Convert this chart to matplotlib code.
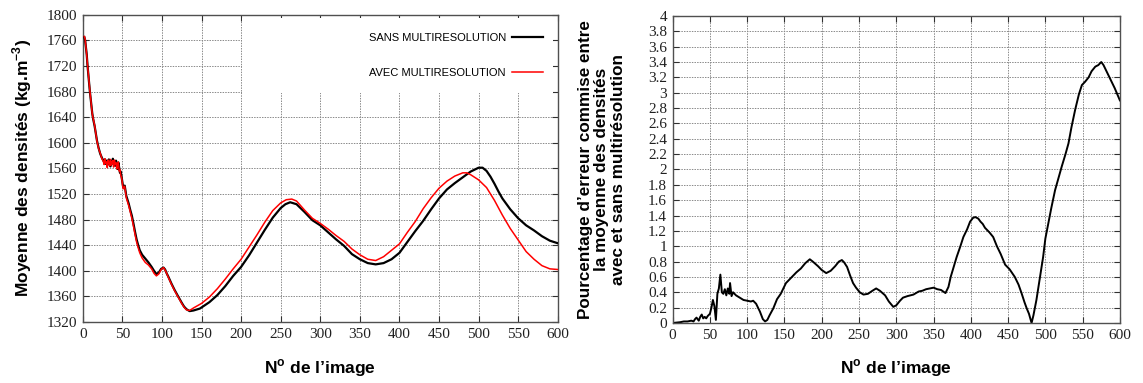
import numpy as np
import matplotlib
matplotlib.use("Agg")
import matplotlib.pyplot as plt
from matplotlib import font_manager
from matplotlib.patches import Rectangle

try:
    font_manager.findfont('Liberation Serif', fallback_to_default=False)
    TICK_FAMILY = 'Liberation Serif'
except ValueError:
    TICK_FAMILY = 'DejaVu Serif'

plt.rcParams['font.family'] = 'serif'
plt.rcParams['font.serif'] = [TICK_FAMILY, 'DejaVu Serif']
plt.rcParams['mathtext.fontset'] = 'custom'
plt.rcParams['mathtext.rm'] = 'Liberation Sans:bold'
plt.rcParams['mathtext.bf'] = 'Liberation Sans:bold'

# Mean density per image, without multiresolution (black)
sans_x = [2, 3, 5, 6, 9, 12, 13, 15, 18, 20,
          22, 24, 26, 27, 28, 29, 30, 31, 32, 33,
          34, 35, 36, 37, 38, 39, 40, 41, 42, 43,
          44, 45, 46, 47, 48, 49, 51, 53, 55, 58,
          60, 62, 64, 66, 68, 70, 72, 75, 79, 83,
          87, 90, 93, 96, 99, 102, 104, 106, 108, 112,
          116, 120, 125, 128, 131, 135, 140, 148, 160, 170,
          180, 190, 200, 210, 220, 230, 240, 250, 256, 262,
          270, 280, 290, 300, 310, 320, 330, 340, 350, 360,
          370, 380, 390, 400, 410, 420, 430, 440, 450, 460,
          470, 480, 490, 500, 505, 510, 515, 520, 525, 530,
          540, 550, 560, 570, 580, 590, 600]
sans_y = [1765, 1760, 1738, 1721, 1680, 1646, 1638, 1626, 1603, 1592,
          1583, 1577, 1572, 1570, 1574, 1567, 1572, 1565, 1570, 1574,
          1567, 1563, 1571, 1568, 1575, 1566, 1570, 1564, 1572, 1567,
          1559, 1569, 1561, 1553, 1555, 1547, 1531, 1533, 1517, 1505,
          1495, 1486, 1474, 1461, 1449, 1440, 1432, 1425, 1419, 1413,
          1406, 1400, 1395, 1397, 1403, 1405, 1402, 1396, 1391, 1380,
          1370, 1361, 1350, 1344, 1340, 1337, 1338, 1341, 1351, 1362,
          1376, 1392, 1406, 1424, 1444, 1464, 1483, 1498, 1504, 1507,
          1504, 1492, 1479, 1471, 1460, 1449, 1439, 1426, 1418, 1412,
          1410, 1412, 1418, 1428, 1445, 1462, 1478, 1496, 1513, 1527,
          1537, 1546, 1555, 1561, 1561, 1556, 1547, 1536, 1524, 1513,
          1496, 1482, 1471, 1463, 1454, 1447, 1443]

# Mean density per image, with multiresolution (red)
avec_x = [2, 3, 5, 6, 9, 12, 13, 15, 18, 20,
          22, 24, 26, 27, 28, 29, 30, 31, 32, 33,
          34, 35, 36, 37, 38, 39, 40, 41, 42, 43,
          44, 45, 46, 47, 48, 49, 51, 53, 55, 58,
          60, 62, 64, 66, 68, 70, 72, 75, 79, 83,
          87, 90, 93, 96, 99, 102, 104, 106, 108, 112,
          116, 120, 125, 128, 131, 135, 140, 150, 160, 170,
          180, 190, 200, 210, 220, 230, 240, 250, 257, 264,
          270, 280, 290, 300, 310, 320, 330, 340, 350, 360,
          370, 380, 390, 400, 410, 420, 430, 440, 450, 460,
          470, 480, 485, 490, 500, 510, 520, 530, 540, 550,
          560, 570, 580, 590, 600]
avec_y = [1766, 1762, 1737, 1722, 1681, 1645, 1639, 1627, 1602, 1591,
          1584, 1576, 1571, 1566, 1575, 1568, 1570, 1561, 1573, 1569,
          1564, 1574, 1565, 1570, 1572, 1562, 1573, 1566, 1569, 1559,
          1566, 1570, 1556, 1558, 1549, 1546, 1528, 1532, 1514, 1502,
          1492, 1482, 1470, 1457, 1445, 1436, 1428, 1420, 1413, 1409,
          1403, 1396, 1392, 1395, 1402, 1405, 1401, 1396, 1390, 1379,
          1369, 1360, 1349, 1343, 1339, 1338, 1342, 1349, 1359, 1372,
          1387, 1403, 1418, 1437, 1456, 1476, 1494, 1506, 1511, 1512,
          1509, 1495, 1482, 1474, 1465, 1455, 1446, 1434, 1425, 1418,
          1416, 1422, 1432, 1442, 1460, 1477, 1497, 1514, 1529, 1540,
          1548, 1553, 1553, 1550, 1542, 1530, 1510, 1487, 1466, 1448,
          1430, 1418, 1408, 1403, 1402]

# Error percentage between the two means
err_x = [0, 5, 10, 15, 20, 25, 28, 30, 32, 35,
         37, 39, 41, 43, 45, 47, 50, 52, 54, 56,
         58, 60, 62, 64, 66, 68, 70, 72, 74, 76,
         77, 79, 81, 85, 90, 95, 100, 105, 108, 112,
         117, 121, 124, 127, 130, 135, 140, 145, 148, 152,
         157, 162, 166, 172, 178, 184, 188, 195, 200, 206,
         212, 218, 223, 227, 230, 234, 238, 242, 246, 251,
         256, 262, 268, 273, 278, 285, 290, 296, 300, 305,
         309, 315, 323, 330, 335, 340, 345, 350, 355, 360,
         366, 370, 373, 377, 381, 386, 390, 395, 399, 403,
         406, 410, 413, 416, 419, 425, 430, 435, 440, 446,
         452, 459, 464, 468, 472, 475, 478, 481.5, 484, 488,
         492, 497, 500, 504, 508, 513, 518, 522, 527, 531,
         535, 540, 545, 549, 553, 558, 562, 567, 571, 575,
         578, 581, 584, 588, 593, 597, 600]
err_y = [0.0, 0.005, 0.01, 0.02, 0.02, 0.03, 0.02, 0.05, 0.07, 0.03,
         0.08, 0.11, 0.06, 0.08, 0.06, 0.09, 0.12, 0.2, 0.3, 0.22,
         0.04, 0.38, 0.45, 0.63, 0.4, 0.38, 0.44, 0.36, 0.45, 0.38,
         0.52, 0.35, 0.4, 0.36, 0.33, 0.3, 0.29, 0.28, 0.29, 0.25,
         0.15, 0.05, 0.02, 0.04, 0.1, 0.19, 0.31, 0.38, 0.44, 0.52,
         0.57, 0.62, 0.66, 0.71, 0.78, 0.83, 0.8, 0.74, 0.69, 0.65,
         0.68, 0.74, 0.8, 0.82, 0.79, 0.73, 0.62, 0.52, 0.46, 0.4,
         0.37, 0.38, 0.42, 0.45, 0.42, 0.36, 0.28, 0.21, 0.23, 0.29,
         0.33, 0.35, 0.37, 0.41, 0.42, 0.44, 0.45, 0.46, 0.44, 0.43,
         0.39, 0.47, 0.6, 0.73, 0.86, 1.0, 1.12, 1.22, 1.32, 1.37,
         1.38, 1.36, 1.32, 1.29, 1.24, 1.18, 1.12, 1.0, 0.9, 0.76,
         0.7, 0.6, 0.5, 0.39, 0.27, 0.19, 0.12, 0.0, 0.1, 0.3,
         0.55, 0.86, 1.1, 1.3, 1.5, 1.73, 1.9, 2.04, 2.2, 2.34,
         2.55, 2.78, 2.98, 3.1, 3.14, 3.2, 3.28, 3.34, 3.36, 3.4,
         3.36, 3.3, 3.24, 3.16, 3.06, 2.97, 2.9]

labels = ['SANS MULTIRESOLUTION', 'AVEC MULTIRESOLUTION']
x_ticks = np.arange(0, 601, 50)
dens_ticks = np.arange(1320, 1801, 40)
err_ticks = np.arange(0, 4.01, 0.2)

LABEL_FONT = dict(family='Liberation Sans', weight='bold', size=12.5)


def gnuplot_style(ax):
    ax.set_axisbelow(True)
    ax.grid(True, color='#8a8a8a', linestyle=(0, (1.5, 1.2)), linewidth=0.7)
    ax.tick_params(direction='in', length=4, width=0.8, top=True, right=True,
                   labelsize=11, pad=4, colors='#303030', labelcolor='#202020')
    for sp in ax.spines.values():
        sp.set_color('#505050')
        sp.set_linewidth(1.0)


def serif_ticklabels(ax):
    for lbl in ax.get_xticklabels() + ax.get_yticklabels():
        lbl.set_fontfamily(TICK_FAMILY)


fig = plt.figure(figsize=(11.43, 3.83), dpi=100)

# Left: mean densities
ax1 = fig.add_axes([0.0724, 0.1593, 0.4156, 0.8023])
gnuplot_style(ax1)
ax1.add_patch(Rectangle((0.335, 0.745), 0.655, 0.243, transform=ax1.transAxes,
                        facecolor='white', edgecolor='none', zorder=1))
ax1.plot(sans_x, sans_y, color='black', linewidth=1.6, label=labels[0], zorder=3)
ax1.plot(avec_x, avec_y, color='#ff0000', linewidth=1.1, label=labels[1], zorder=4)
ax1.set_xlim(0, 600)
ax1.set_ylim(1320, 1800)
ax1.set_xticks(x_ticks)
ax1.set_yticks(dens_ticks)
serif_ticklabels(ax1)
ax1.set_ylabel('Moyenne des densités (kg.m$^{\\mathbf{-3}}$)', va='center', **LABEL_FONT)
ax1.yaxis.set_label_coords(-0.128, 0.5)
ax1.set_xlabel('N$^{\\mathbf{o}}$ de l’image', va='center', **LABEL_FONT)
ax1.xaxis.set_label_coords(0.5, -0.15)
ax1.legend(loc='upper right', bbox_to_anchor=(0.969, 0.94), frameon=False,
           markerfirst=False, handlelength=2.8, handletextpad=0.55,
           labelspacing=2.2, borderpad=0, borderaxespad=0,
           prop=dict(family='Liberation Sans', size=8))

# Right: error percentage
ax2 = fig.add_axes([0.5885, 0.1567, 0.3913, 0.8016])
gnuplot_style(ax2)
ax2.plot(err_x, err_y, color='black', linewidth=1.4)
ax2.set_xlim(0, 600)
ax2.set_ylim(0, 4)
ax2.set_xticks(x_ticks)
ax2.set_yticks(err_ticks)
ax2.set_yticklabels([f'{round(v, 1):g}' for v in err_ticks])
serif_ticklabels(ax2)
ax2.set_ylabel('Pourcentage d’erreur commise entre\nla moyenne des densités\n'
               'avec et sans multirésolution', va='center', ha='center',
               multialignment='center', linespacing=1.1,
               family='Liberation Sans', weight='bold', size=12.3)
ax2.yaxis.set_label_coords(-0.158, 0.5)
ax2.set_xlabel('N$^{\\mathbf{o}}$ de l’image', va='center', **LABEL_FONT)
ax2.xaxis.set_label_coords(0.5, -0.147)

fig.savefig('out.png', dpi=100)
